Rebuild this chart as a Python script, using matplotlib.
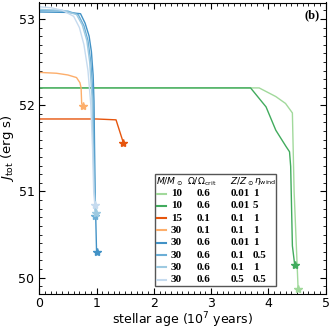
import matplotlib
matplotlib.use("Agg")
import matplotlib.pyplot as plt
from matplotlib.lines import Line2D
from matplotlib.patches import Rectangle
from matplotlib.ticker import MultipleLocator

# ---- data: (age [1e7 yr], log J_tot) ----
masses = ["10", "10", "15", "30", "30", "30", "30", "30"]
omegas = ["0.6", "0.6", "0.1", "0.1", "0.6", "0.6", "0.6", "0.6"]
metals = ["0.01", "0.01", "0.1", "0.1", "0.01", "0.1", "0.1", "0.5"]
etas = ["1", "5", "1", "1", "1", "0.5", "1", "0.5"]
colors = ["#a1d99b", "#41ab5d", "#e6550d", "#fdae6b",
          "#4292c6", "#6baed6", "#9ecae1", "#c6dbef"]

age_a = [0, 0, 1.0, 2.0, 3.0, 3.84, 4.13, 4.30, 4.42, 4.45, 4.52]
jtot_a = [49.0, 52.2, 52.2, 52.2, 52.2, 52.2, 52.1, 52.02, 51.91, 51.0, 49.87]
age_b = [0, 0, 1.0, 2.0, 3.0, 3.69, 3.96, 4.13, 4.31, 4.37, 4.39, 4.42, 4.46]
jtot_b = [49.0, 52.2, 52.2, 52.2, 52.2, 52.2, 51.98, 51.71, 51.52, 51.46, 51.29, 50.37, 50.15]
age_c = [0, 0, 0.5, 1.0, 1.34, 1.47]
jtot_c = [49.0, 51.84, 51.84, 51.84, 51.83, 51.56]
age_d = [0, 0, 0.3, 0.5, 0.65, 0.71, 0.73, 0.74, 0.76]
jtot_d = [49.0, 52.38, 52.37, 52.35, 52.32, 52.26, 52.2, 52.02, 51.99]
age_e = [0, 0, 0.5, 0.72, 0.8, 0.87, 0.91, 0.94, 0.955, 0.965, 0.975, 0.985, 1.0]
jtot_e = [49.0, 53.08, 53.075, 53.06, 52.95, 52.8, 52.62, 52.35, 52.05, 51.5, 51.0, 50.72, 50.30]
age_f = [0, 0, 0.5, 0.68, 0.78, 0.85, 0.9, 0.93, 0.945, 0.96, 0.98]
jtot_f = [49.0, 53.1, 53.09, 53.05, 52.92, 52.75, 52.5, 52.2, 51.8, 51.2, 50.72]
age_g = [0, 0, 0.4, 0.65, 0.75, 0.83, 0.88, 0.92, 0.94, 0.96, 0.99]
jtot_g = [49.0, 53.11, 53.1, 53.05, 52.93, 52.75, 52.5, 52.1, 51.5, 51.0, 50.75]
age_h = [0, 0, 0.2, 0.4, 0.6, 0.7, 0.78, 0.85, 0.9, 0.93, 0.95, 0.97]
jtot_h = [49.0, 53.14, 53.13, 53.1, 53.03, 52.9, 52.7, 52.4, 52.0, 51.5, 51.0, 50.84]

ages = [age_a, age_b, age_c, age_d, age_e, age_f, age_g, age_h]
jtots = [jtot_a, jtot_b, jtot_c, jtot_d, jtot_e, jtot_f, jtot_g, jtot_h]

xticks = [0, 1, 2, 3, 4, 5]
yticks = [50, 51, 52, 53]

W = H = 332
fig = plt.figure(figsize=(3.32, 3.32), dpi=100)
ax = fig.add_axes([39.3 / W, 1 - 293.7 / H, (325.6 - 39.3) / W, (293.7 - 2.5) / H])

for x, y, c in zip(ages, jtots, colors):
    ax.plot(x, y, color=c, lw=1.0, zorder=2)
    ax.plot(x[-1], y[-1], marker="*", color=c, ms=6, zorder=3, ls="none")

ax.set_xlim(0, 5)
ax.set_ylim(49.815, 53.19)
ax.set_xticks(xticks)
ax.set_yticks(yticks)
ax.xaxis.set_minor_locator(MultipleLocator(0.1))
ax.yaxis.set_minor_locator(MultipleLocator(0.1))
ax.tick_params(which="both", direction="in", top=True, right=True, labelsize=9)
ax.tick_params(axis="x", which="major", pad=2.5)
ax.tick_params(which="major", length=4, width=0.8)
ax.tick_params(which="minor", length=2, width=0.6)
ax.set_xlabel(r"stellar age ($10^7$ years)", fontsize=9, labelpad=0.5)
ax.set_ylabel(r"$J_{\rm tot}$ (erg s)", fontsize=9.5, labelpad=2)

ax.text(0.98, 0.955, "(b)", transform=ax.transAxes, ha="right", va="center",
        fontsize=9, fontweight="bold", family="Liberation Serif")

# ---- table-like legend (in figure pixel coordinates) ----
def fx(px):
    return px / W

def fy(py):
    return 1 - py / H

fig.patches.append(Rectangle((fx(154.5), fy(285.5)), fx(275.5) - fx(154.5), fy(174) - fy(285.5),
                             transform=fig.transFigure, facecolor="white",
                             edgecolor="#555555", lw=1.0, zorder=5))
hdr_y = 181.5
hfs = 6.6
fig.text(fx(156.5), fy(hdr_y), r"$M/M_\odot$", fontsize=hfs, va="center", ha="left", zorder=6)
fig.text(fx(187.0), fy(hdr_y), r"$\Omega/\Omega_{\rm crit}$", fontsize=hfs, va="center", ha="left", zorder=6)
fig.text(fx(230.0), fy(hdr_y), r"$Z/Z_\odot$", fontsize=hfs, va="center", ha="left", zorder=6)
fig.text(fx(254.0), fy(hdr_y), r"$\eta_{\rm wind}$", fontsize=hfs, va="center", ha="left", zorder=6)

for i in range(len(masses)):
    yy = fy(193.5 + 12.3 * i)
    fig.lines.append(Line2D([fx(157), fx(166)], [yy, yy], color=colors[i], lw=1.5,
                            transform=fig.transFigure, zorder=6))
    for xpos, txt in zip([171.0, 197.0, 231.0, 253.0],
                         [masses[i], omegas[i], metals[i], etas[i]]):
        fig.text(fx(xpos), yy, txt, fontsize=8, fontweight="bold",
                 family="Liberation Serif", va="center", ha="left", zorder=6)

fig.savefig("out.png", dpi=100)
